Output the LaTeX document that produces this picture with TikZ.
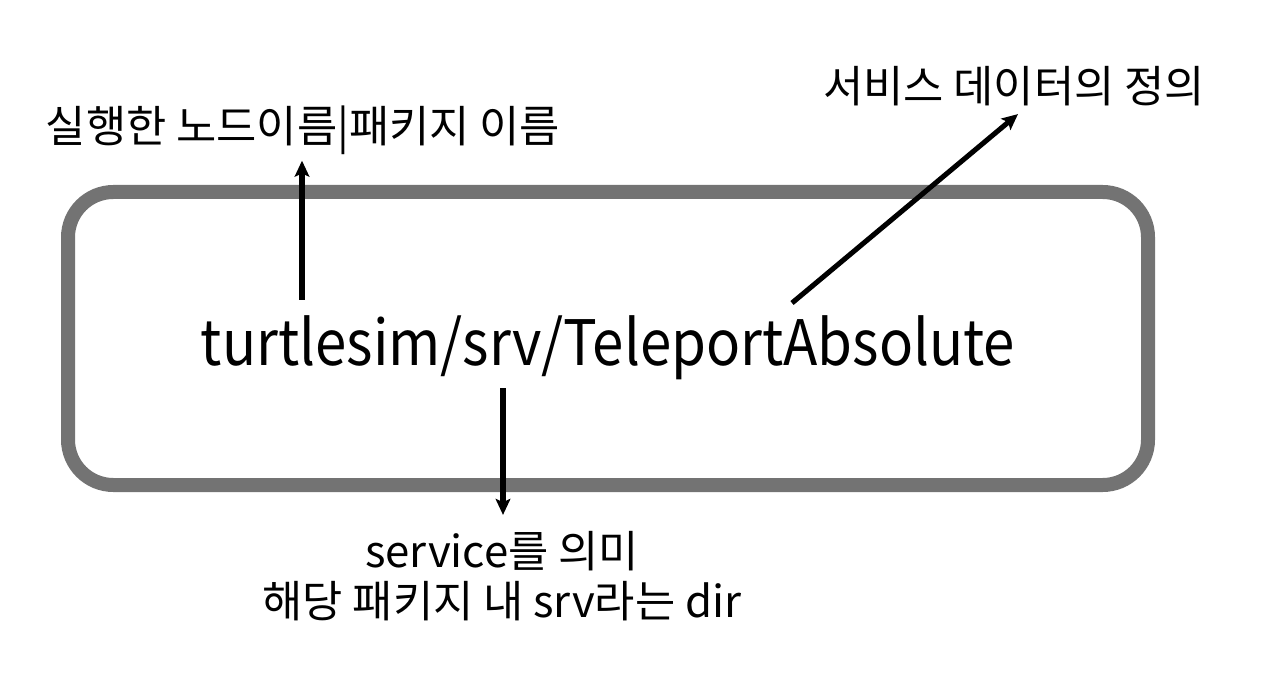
\documentclass[tikz,border=0pt]{standalone}
\usepackage{fontspec}
\setmainfont{Noto Sans CJK KR}
\usetikzlibrary{arrows.meta,calc}
\begin{document}
\begin{tikzpicture}[x=0.75pt,y=-0.75pt,
  frame/.style={draw=black!55,line width=10.5pt,rounded corners=34pt},
  lbl/.style={font=\fontsize{32.8}{37.5}\selectfont,inner sep=0pt,align=center},
  big/.style={font=\fontsize{47}{56}\selectfont,inner sep=0pt},
  arr/.style={line width=3.8pt,-{Stealth[length=12pt,width=11pt,inset=2.5pt]}}]
\useasboundingbox (0,0) rectangle (1270,698);
\draw[frame] (68,192) rectangle (1148,485);
\node[big,anchor=base] (main) at (608,365) {\scalebox{0.9}[1]{turtlesim/srv/TeleportAbsolute}};
\node[lbl] (node) at (303,130) {실행한 노드이름|패키지 이름};
\node[lbl] (def) at (1014,86) {서비스 데이터의 정의};
\node[lbl] (dir) at (502,576) {service를 의미\\해당 패키지 내 srv라는 dir};
\coordinate (s1) at (302,300);
\coordinate (s2) at (792,303);
\coordinate (s3) at (503,388);
\draw[arr] (s1) -- ($(s1 |- node.south)+(0,6)$);
\draw[arr] (s2) -- ($(def.south)+(4,8)$);
\draw[arr] (s3) -- ($(s3 |- dir.north)+(0,-16)$);
\end{tikzpicture}
\end{document}
